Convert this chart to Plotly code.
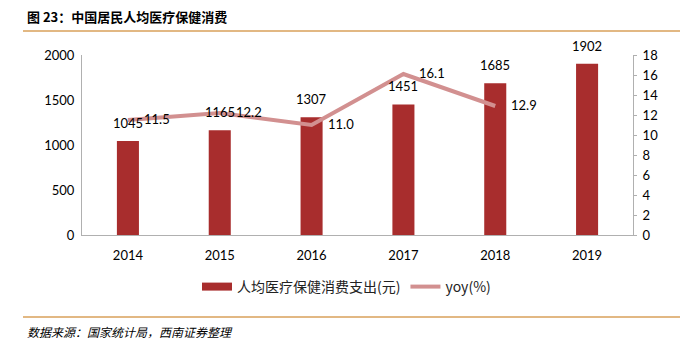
import plotly.graph_objects as go

years = ["2014", "2015", "2016", "2017", "2018", "2019"]
spend = [1045, 1165, 1307, 1451, 1685, 1902]
yoy_years = ["2014", "2015", "2016", "2017", "2018"]
yoy = [11.5, 12.2, 11.0, 16.1, 12.9]

title = "图 23：中国居民人均医疗保健消费"
source = "数据来源：国家统计局，西南证券整理"
bar_name = "人均医疗保健消费支出(元)"
line_name = "yoy(%)"

NUM_FONT = "Lato, Carlito, 'Noto Sans CJK SC', sans-serif"
CJK_FONT = "'Noto Sans CJK SC', sans-serif"
BAR_COLOR = "#a82d2d"

L, R, T, B = 82, 48, 55, 111
W, H = 681, 346
pw, ph = W - L - R, H - T - B

def px(x):
    return (x - L) / pw

def py(y):
    return (H - B - y) / ph

fig = go.Figure()
fig.add_trace(go.Bar(
    x=years, y=spend, name=bar_name, showlegend=False,
    marker=dict(color=BAR_COLOR, line=dict(width=0)),
    width=0.24,
))
# legend stand-in for the bar series (wide rectangle swatch)
fig.add_trace(go.Scatter(
    x=[None], y=[None], name=bar_name, mode="lines",
    line=dict(color=BAR_COLOR, width=8),
))
fig.add_trace(go.Scatter(
    x=yoy_years, y=yoy, name=line_name, yaxis="y2",
    mode="lines", line=dict(color="#d29090", width=4),
))

ann = []
for i, v in enumerate(spend):
    ann.append(dict(x=i, y=v, xref="x", yref="y", text=str(v), showarrow=False,
                    yanchor="bottom", yshift=8, font=dict(family=NUM_FONT, size=13, color="#000")))
for i, v in enumerate(yoy):
    ann.append(dict(x=i, y=v, xref="x", yref="y2", text=f"{v:.1f}", showarrow=False,
                    xanchor="left", xshift=14, yshift=1, font=dict(family=NUM_FONT, size=13, color="#000")))
ann.append(dict(x=px(25), y=py(16), xref="paper", yref="paper", text="<b>" + title + "</b>",
                showarrow=False, xanchor="left", yanchor="middle",
                font=dict(family=CJK_FONT, size=13, color="#000")))
ann.append(dict(x=px(25), y=py(331), xref="paper", yref="paper", text="<i>" + source + "</i>",
                showarrow=False, xanchor="left", yanchor="middle",
                font=dict(family=CJK_FONT, size=12, color="#000")))

shapes = [
    dict(type="line", xref="paper", yref="paper", x0=px(23), x1=px(680), y0=py(31), y1=py(31),
         line=dict(color="#d9a05a", width=1.5)),
    dict(type="line", xref="paper", yref="paper", x0=px(23), x1=px(680), y0=py(317), y1=py(317),
         line=dict(color="#d9a05a", width=1.5)),
]

fig.update_layout(
    width=W, height=H,
    margin=dict(l=L, r=R, t=T, b=B),
    paper_bgcolor="white", plot_bgcolor="white",
    showlegend=True,
    legend=dict(orientation="h", x=0.48, xanchor="center", y=py(287), yanchor="middle",
                font=dict(family=CJK_FONT, size=14, color="#222"),
                tracegroupgap=0),
    xaxis=dict(type="category", range=[-0.5, len(years) - 0.5], showline=True,
               linecolor="#b0b0b0", linewidth=1, ticks="", ticklabelstandoff=8,
               tickfont=dict(family=NUM_FONT, size=13, color="#000"), showgrid=False),
    yaxis=dict(range=[0, 2000], dtick=500, showline=True, linecolor="#b0b0b0", linewidth=1,
               showgrid=False, zeroline=False, ticks="", ticklen=0, ticklabelstandoff=4,
               tickfont=dict(family=NUM_FONT, size=13, color="#000")),
    yaxis2=dict(range=[0, 18], dtick=2, overlaying="y", side="right", showline=True,
                linecolor="#b0b0b0", linewidth=1, showgrid=False, zeroline=False,
                ticks="outside", ticklen=3, tickcolor="#b0b0b0", ticklabelstandoff=3,
                tickfont=dict(family=NUM_FONT, size=13, color="#000")),
    annotations=ann, shapes=shapes,
)

fig.write_html("out.html")
